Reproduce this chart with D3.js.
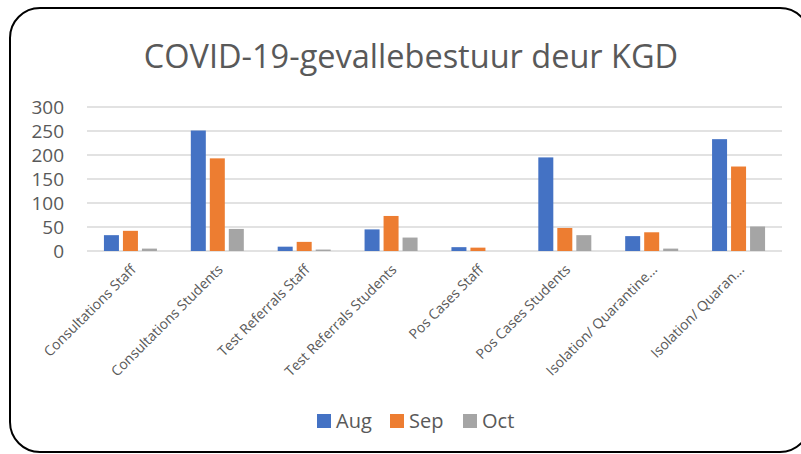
<!DOCTYPE html>
<html><head><meta charset="utf-8">
<script src="https://cdn.jsdelivr.net/npm/d3@7"></script>
<style>body{margin:0;background:#fff}svg{display:block}</style>
</head><body>
<script>
const categories = ["Consultations Staff","Consultations Students","Test Referrals Staff","Test Referrals Students","Pos Cases Staff","Pos Cases Students","Isolation/ Quarantine...","Isolation/ Quaran..."];
const seriesNames = ["Aug","Sep","Oct"];
const aug = [33,251,9,45,8,195,31,233];
const sep = [42,193,19,73,7,48,39,176];
const oct = [5,46,3,28,0,33,5,51];
const yTicks = [0,50,100,150,200,250,300];
const colors = ["#4472C4","#ED7D31","#A5A5A5"];
const title = "COVID-19-gevallebestuur deur KGD";

const W=801,H=454;
const svg=d3.select("body").append("svg").attr("width",W).attr("height",H);
svg.append("rect").attr("x",10).attr("y",8).attr("width",800).attr("height",444).attr("rx",30)
  .attr("fill","#fff").attr("stroke","#000").attr("stroke-width",2);

const font="'Open Sans', 'Noto Sans', sans-serif";
svg.append("text").attr("x",411).attr("y",68).attr("text-anchor","middle")
  .attr("font-family",font).attr("font-size",32.5).attr("fill","#595959").text(title);

const x=d3.scaleBand().domain(categories).range([87,782]);
const y=d3.scaleLinear().domain([0,300]).range([251,107]);
const data=[aug,sep,oct];

const g=svg.append("g");
g.selectAll("line.grid").data(yTicks).join("line").attr("class","grid")
  .attr("x1",87).attr("x2",782).attr("y1",d=>y(d)).attr("y2",d=>y(d))
  .attr("stroke","#d9d9d9").attr("stroke-width",1.5);

const yAxis=d3.axisLeft(y).tickValues(yTicks).tickSize(0).tickPadding(0);
const ya=svg.append("g").attr("transform","translate(64,0)").call(yAxis);
ya.select(".domain").remove();
ya.selectAll("text").attr("font-family",font).attr("font-size",19).attr("fill","#595959").attr("dy","0.35em");

const bw=15, gap=4;
seriesNames.forEach((s,si)=>{
  g.selectAll("rect.s"+si).data(categories).join("rect").attr("class","s"+si)
    .attr("x",c=>x(c)+x.bandwidth()/2-(3*bw+2*gap)/2+si*(bw+gap))
    .attr("width",bw)
    .attr("y",(c,i)=>y(data[si][i]))
    .attr("height",(c,i)=>y(0)-y(data[si][i]))
    .attr("fill",colors[si]);
});

const xAxis=d3.axisBottom(x).tickSize(0).tickPadding(0);
const xa=svg.append("g").attr("transform","translate(0,262)").call(xAxis);
xa.select(".domain").remove();
xa.selectAll("text").attr("font-family",font).attr("font-size",14).attr("fill","#595959")
  .attr("text-anchor","end").attr("y",0).attr("dy","0.35em")
  .attr("transform","translate(3,5) rotate(-45)");

const lg=svg.append("g");
const lx=[317,390,463];
seriesNames.forEach((s,i)=>{
  lg.append("rect").attr("x",lx[i]).attr("y",414).attr("width",14).attr("height",14).attr("fill",colors[i]);
  lg.append("text").attr("x",lx[i]+19).attr("y",428).attr("font-family",font).attr("font-size",20)
    .attr("fill","#595959").text(s);
});
</script>
</body></html>
